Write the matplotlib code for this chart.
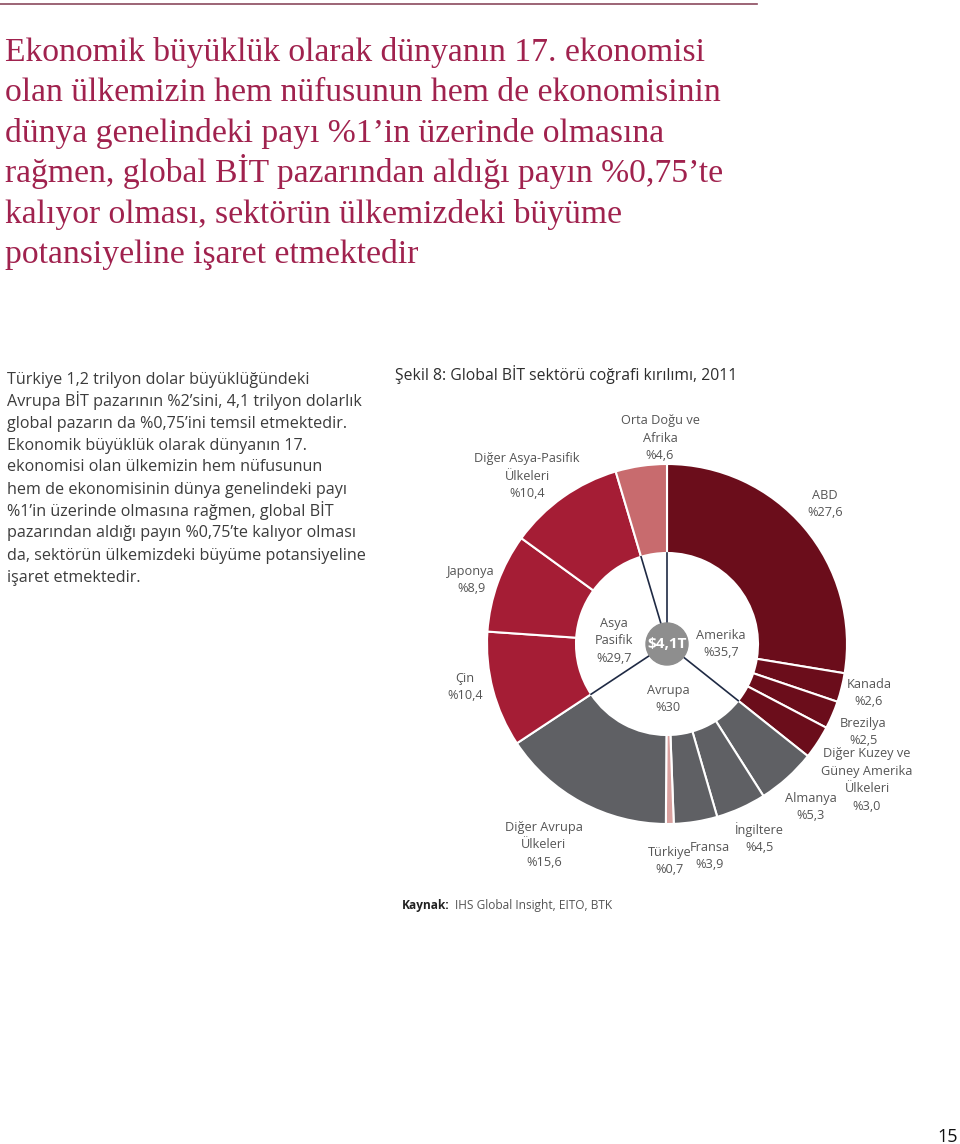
import matplotlib.pyplot as plt
from matplotlib.patches import Circle
import numpy as np

# --- data ---
segments = ['ABD', 'Kanada', 'Brezilya', 'Diğer Kuzey ve Güney Amerika Ülkeleri',
            'Almanya', 'İngiltere', 'Fransa', 'Türkiye', 'Diğer Avrupa Ülkeleri',
            'Çin', 'Japonya', 'Diğer Asya-Pasifik Ülkeleri', 'Orta Doğu ve Afrika']
shares = [27.6, 2.6, 2.5, 3.0, 5.3, 4.5, 3.9, 0.7, 15.6, 10.4, 8.9, 10.4, 4.6]
seg_labels = ['ABD\n%27,6', 'Kanada\n%2,6', 'Brezilya\n%2,5',
              'Diğer Kuzey ve\nGüney Amerika\nÜlkeleri\n%3,0',
              'Almanya\n%5,3', 'İngiltere\n%4,5', 'Fransa\n%3,9', 'Türkiye\n%0,7',
              'Diğer Avrupa\nÜlkeleri\n%15,6', 'Çin\n%10,4', 'Japonya\n%8,9',
              'Diğer Asya-Pasifik\nÜlkeleri\n%10,4', 'Orta Doğu ve\nAfrika\n%4,6']
regions = ['Amerika', 'Avrupa', 'Asya\nPasifik']
region_shares = [35.7, 30, 29.7, 4.6]
total_label = r'\$4,1T'

headline = ['Ekonomik büyüklük olarak dünyanın 17. ekonomisi',
            'olan ülkemizin hem nüfusunun hem de ekonomisinin',
            'dünya genelindeki payı %1’in üzerinde olmasına',
            'rağmen, global BİT pazarından aldığı payın %0,75’te',
            'kalıyor olması, sektörün ülkemizdeki büyüme',
            'potansiyeline işaret etmektedir']
body = ['Türkiye 1,2 trilyon dolar büyüklüğündeki',
        'Avrupa BİT pazarının %2’sini, 4,1 trilyon dolarlık',
        'global pazarın da %0,75’ini temsil etmektedir.',
        'Ekonomik büyüklük olarak dünyanın 17.',
        'ekonomisi olan ülkemizin hem nüfusunun',
        'hem de ekonomisinin dünya genelindeki payı',
        '%1’in üzerinde olmasına rağmen, global BİT',
        'pazarından aldığı payın %0,75’te kalıyor olması',
        'da, sektörün ülkemizdeki büyüme potansiyeline',
        'işaret etmektedir.']

# --- styles ---
MAROON = '#6B0D1B'
CRIMSON = '#A51D35'
ROSE = '#C86B6E'
GREY = '#5F6064'
PINK = '#D9A09E'
seg_colors = [MAROON] * 4 + [GREY] * 3 + [PINK, GREY] + [CRIMSON] * 3 + [ROSE]

# label block centres in page pixels
seg_pos = [(825, 503), (869, 692), (863, 731), (867, 779), (811, 806), (759, 838),
           (710, 855), (670, 860), (544, 844), (465, 686), (471, 579), (527, 475),
           (660, 437)]
region_pos = [(721, 643), (668, 698), (614, 640)]

W, H = 960, 1144
fig = plt.figure(figsize=(W / 100, H / 100), dpi=100)


def fx(x):
    return x / W


def fy(y):
    return 1 - y / H


SANS = 'Open Sans'
LAB_SIZE = 9.2
LAB_STEP = 17.4


def block(text, x, y):
    lines = text.split('\n')
    n = len(lines)
    for i, ln in enumerate(lines):
        yy = y + (i - (n - 1) / 2) * LAB_STEP + 4.5
        fig.text(fx(x), fy(yy), ln, family=SANS, size=LAB_SIZE, color='#555555',
                 ha='center', va='baseline')


# top rule
fig.add_artist(plt.Line2D([0, fx(757)], [fy(4), fy(4)], color='#8B4A5E', lw=1.2))

# headline
for i, line in enumerate(headline):
    fig.text(fx(5), fy(61 + i * 40.4), line, family='Liberation Serif', size=24.2,
             color='#A0224E', va='baseline', ha='left')

# body paragraph
for i, line in enumerate(body):
    fig.text(fx(7), fy(383.5 + i * 22), line, family=SANS, size=11.6,
             color='#3C3C3C', va='baseline', ha='left')

# chart title
fig.text(fx(395), fy(380), 'Şekil 8: Global BİT sektörü coğrafi kırılımı, 2011',
         family=SANS, size=11.3, color='#2E2E2E', va='baseline', ha='left')

# donut
cx, cy, R, r, rc = 667, 644, 180, 91, 21
ax = fig.add_axes([fx(cx - R), fy(cy + R), 2 * R / W, 2 * R / H])
ax.pie(shares, colors=seg_colors, startangle=90, counterclock=False, radius=1,
       wedgeprops=dict(width=1 - r / R, edgecolor='white', linewidth=1.5))
ax.set_xlim(-1, 1)
ax.set_ylim(-1, 1)
ax.axis('off')

# region divider lines
cum = np.cumsum([0] + region_shares[:-1])
for c in cum:
    a = np.deg2rad(90 - 360 * c / 100)
    ax.plot([rc / R * np.cos(a), r / R * np.cos(a)],
            [rc / R * np.sin(a), r / R * np.sin(a)], color='#1F2A44', lw=1.2)

ax.add_patch(Circle((0, 0), rc / R, color='#8E8E8E', zorder=5))
ax.text(0, 0, total_label, ha='center', va='center', color='white',
        fontsize=11, fontweight='bold', family=SANS, zorder=6)

# labels
for lab, (x, y) in zip(seg_labels, seg_pos):
    block(lab, x, y)
for lab, s, (x, y) in zip(regions, region_shares, region_pos):
    block(lab + '\n%' + str(s).replace('.', ','), x, y)

# source + page number
fig.text(fx(402), fy(909), 'Kaynak:', family=SANS, size=8.6, color='#222222',
         fontweight='bold', va='baseline')
fig.text(fx(455), fy(909), 'IHS Global Insight, EITO, BTK', family=SANS, size=8.6,
         color='#555555', va='baseline')
fig.text(fx(958), fy(1142), '15', family=SANS, size=13, color='#111111',
         ha='right', va='baseline')

fig.savefig('out.png', dpi=100)
